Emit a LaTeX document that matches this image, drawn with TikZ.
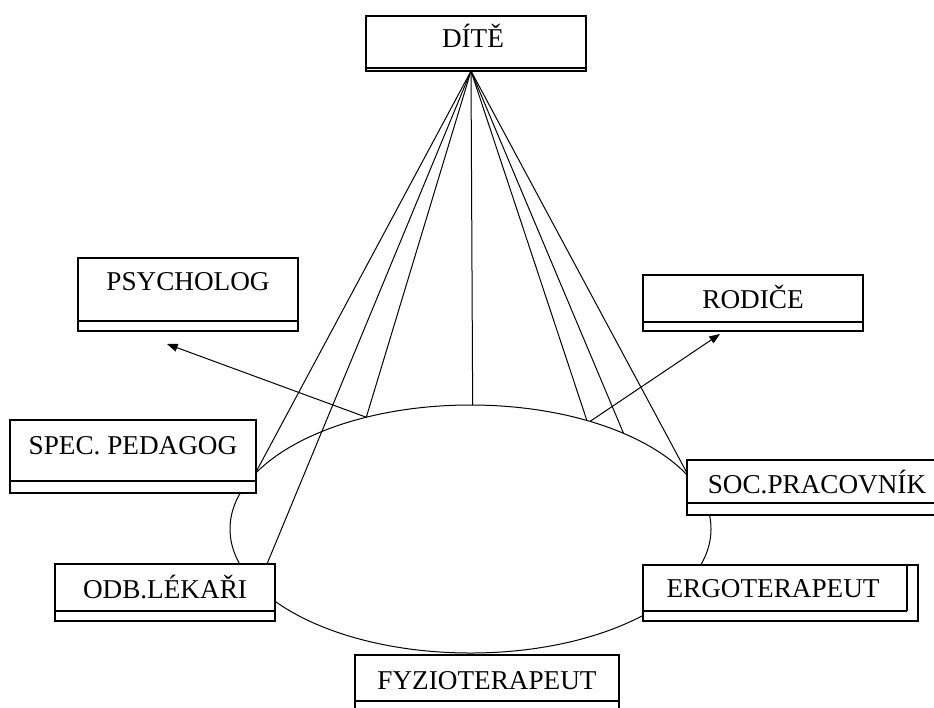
\documentclass[tikz,border=0pt]{standalone}
\usepackage{fontspec}
\setmainfont{Liberation Serif}
\usetikzlibrary{shapes.geometric,arrows.meta,calc,backgrounds}
\begin{document}
\begin{tikzpicture}[x=0.75pt,y=-0.75pt,
  box/.style={draw, fill=white, line width=0.8pt, rectangle, inner sep=0pt, outer sep=0pt},
  band/.style={path picture={\draw[line width=0.8pt] ([yshift=#1]path picture bounding box.south west) -- ([yshift=#1]path picture bounding box.south east);}},
  ergoband/.style={path picture={
    \draw[line width=0.8pt] ([yshift=7.5pt]path picture bounding box.south west) -- ([xshift=-8.25pt,yshift=7.5pt]path picture bounding box.south east);
    \draw[line width=0.8pt] ([xshift=-8.25pt]path picture bounding box.north east) -- ([xshift=-8.25pt,yshift=7.5pt]path picture bounding box.south east);}},
  txt/.style={font=\fontsize{20.4}{24}\selectfont, inner sep=0pt, text height=13.5pt, text depth=0pt},
  team/.style={draw, ellipse, line width=0.75pt, inner sep=0pt, outer sep=0pt},
  link/.style={line width=0.75pt},
  arr/.style={line width=0.75pt, -{Triangle[length=8pt,width=6pt]}}
]
\useasboundingbox (0,0) rectangle (934,707);

% boxes
\node[box, band=2.25pt, minimum width=165pt, minimum height=41.25pt,
      label={[txt,xshift=-2.25pt,yshift=4.1pt]center:DÍTĚ}] (dite) at (476,43.5) {};
\node[box, band=7.5pt, minimum width=165pt, minimum height=54.75pt,
      label={[txt,yshift=9.4pt]center:PSYCHOLOG}] (psy) at (188,294.5) {};
\node[box, band=6.75pt, minimum width=165pt, minimum height=42pt,
      label={[txt,yshift=3pt]center:RODIČE}] (rod) at (753,303) {};
\node[box, band=9pt, minimum width=184.5pt, minimum height=54.75pt,
      label={[txt,yshift=8.6pt]center:SPEC. PEDAGOG}] (spec) at (133,456.5) {};
\node[box, band=7.5pt, minimum width=165pt, minimum height=42.75pt,
      label={[txt,yshift=1.9pt]center:ODB.LÉKAŘI}] (odb) at (165,592.5) {};
\node[box, band=9pt, minimum width=193.5pt, minimum height=41.25pt,
      label={[txt,xshift=0.75pt,yshift=1.9pt]center:SOC.PRACOVNÍK}] (soc) at (816,487.5) {};
\node[box, ergoband, minimum width=206.25pt, minimum height=42pt,
      label={[txt,xshift=-5.6pt,yshift=3.75pt]center:ERGOTERAPEUT}] (ergo) at (780.5,593) {};
\node[box, band=10.5pt, minimum width=198pt, minimum height=45pt,
      label={[txt,yshift=3.75pt]center:FYZIOTERAPEUT}] (fyz) at (487,685) {};

\coordinate (apex) at ($(dite.south)+(-5,0)$);

\begin{pgfonlayer}{background}
\node[team, minimum width=360.75pt, minimum height=186pt] (tm) at (470.5,529) {};
\draw[link] (apex) -- ($(spec.east)+(0,15.5)$);
\draw[link] (apex) -- ($(odb.north)+(102,0)$);
\draw[link] (apex) -- (tm.133);
\draw[link] (apex) -- (tm.89);
\draw[link] (apex) -- (tm.43);
\draw[link] (apex) -- (tm.32);
\draw[link] (apex) -- ($(soc.west)+(0,-14.5)$);
\draw[arr] (tm.133) -- ($(psy.south)+(-21,13)$);
\draw[arr] (tm.42) -- ($(rod.south)+(-33,3)$);
\end{pgfonlayer}
\end{tikzpicture}
\end{document}
